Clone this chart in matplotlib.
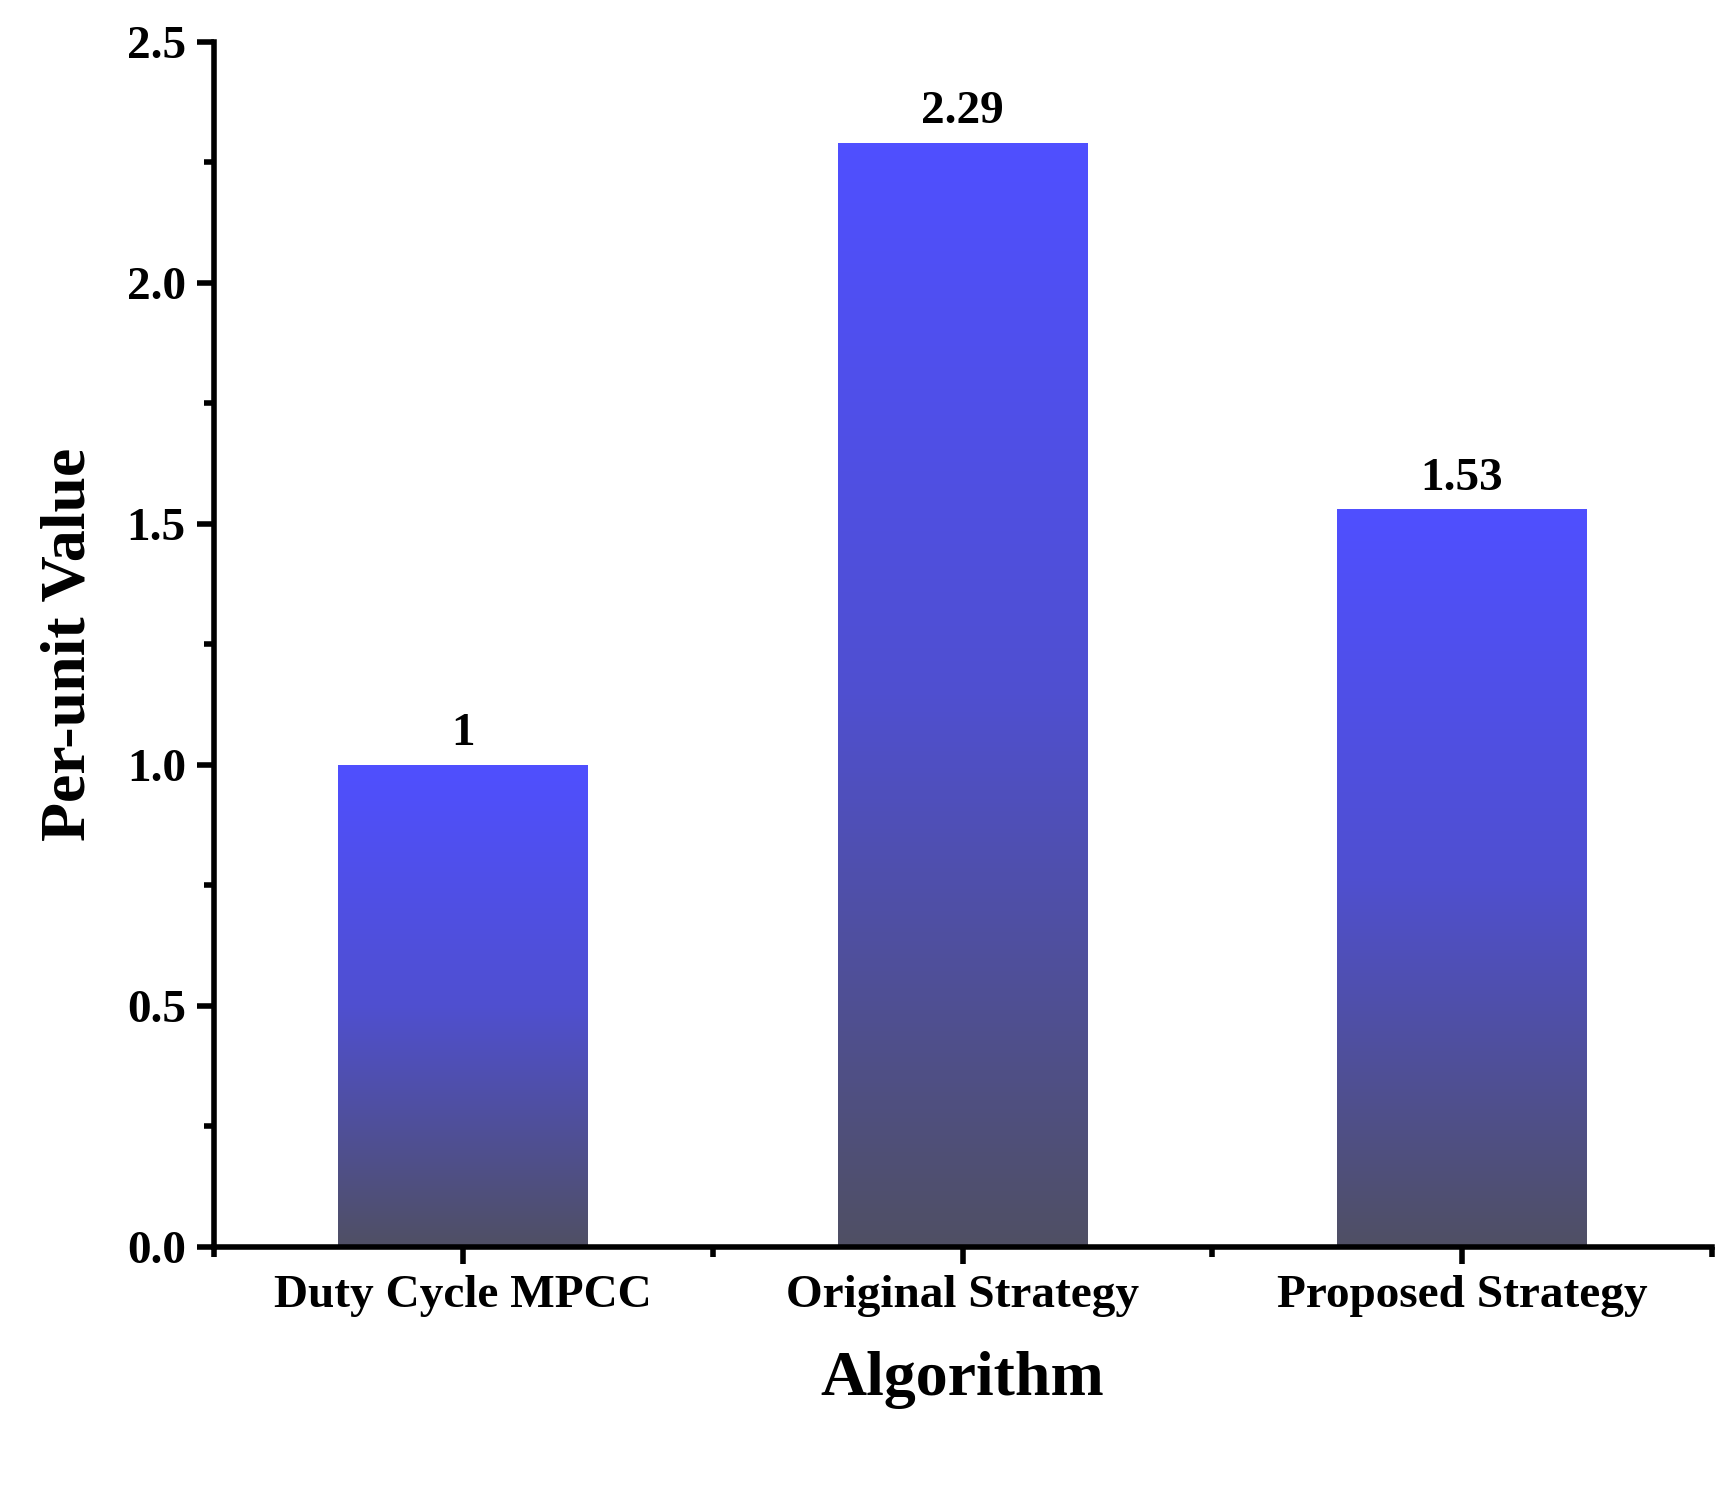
import numpy as np
import matplotlib
matplotlib.use("Agg")
import matplotlib.pyplot as plt
from matplotlib.colors import LinearSegmentedColormap
from matplotlib.ticker import MultipleLocator

categories = ["Duty Cycle MPCC", "Original Strategy", "Proposed Strategy"]
values = [1.0, 2.29, 1.53]
labels = ["1", "2.29", "1.53"]

plt.rcParams["font.family"] = "Liberation Serif"
plt.rcParams["font.weight"] = "bold"

fig = plt.figure(figsize=(17.22, 14.86), dpi=100)
ax = fig.add_axes([0.124, 0.161, 0.870, 0.811])
x = np.arange(1, len(categories) + 1)
bars = ax.bar(x, values, width=0.5, color="none", edgecolor="none")
cmap = LinearSegmentedColormap.from_list("g", [(0, "#505064"), (0.5, "#4F4FD0"), (1, "#5050FF")])
grad = np.linspace(0, 1, 256).reshape(-1, 1)
for b in bars:
    x0, w, h = b.get_x(), b.get_width(), b.get_height()
    im = ax.imshow(grad, extent=[x0, x0 + w, 0, h], origin="lower", aspect="auto", cmap=cmap, zorder=2)
    im.set_clip_path(b)
for xi, v, l in zip(x, values, labels):
    ax.text(xi, v + 0.02, l, ha="center", va="bottom", fontsize=34, fontweight="bold")
ax.set_xlim(0.5, 3.5)
ax.set_ylim(0, 2.5)
ax.set_xticks(x)
ax.set_xticklabels(categories)
ax.xaxis.set_minor_locator(MultipleLocator(0.5))
ax.yaxis.set_major_locator(MultipleLocator(0.5))
ax.yaxis.set_minor_locator(MultipleLocator(0.25))
ax.yaxis.set_major_formatter(matplotlib.ticker.FormatStrFormatter("%.1f"))
for s in ["top", "right"]:
    ax.spines[s].set_visible(False)
for s in ["left", "bottom"]:
    ax.spines[s].set_linewidth(4)
ax.tick_params(which="major", length=12, width=4, labelsize=34, pad=8)
ax.tick_params(which="minor", length=7, width=4)
ax.set_xlabel("Algorithm", fontsize=46, fontweight="bold", labelpad=25)
ax.set_ylabel("Per-unit Value", fontsize=46, fontweight="bold", labelpad=20)
fig.savefig("out.png", dpi=100)
